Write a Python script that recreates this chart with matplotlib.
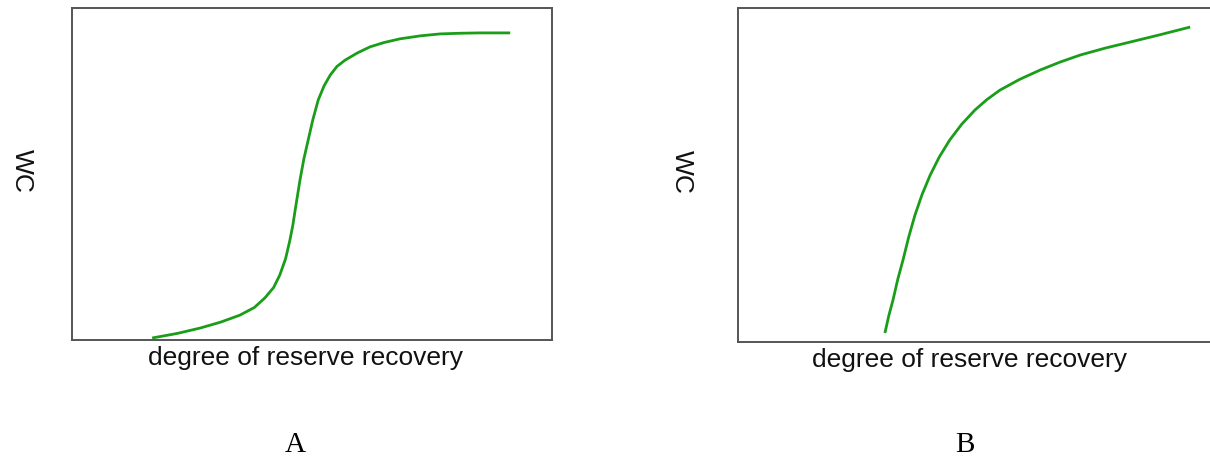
import matplotlib
matplotlib.use("Agg")
import matplotlib.pyplot as plt

# Water cut (%) versus degree of reserve recovery (%) for two displacement types
recovery_a = [16.7, 22.0, 26.7, 31.0, 35.0, 38.0, 40.2, 42.0, 43.3, 44.5, 45.4, 46.0,
              46.5, 47.0, 47.5, 48.3, 49.2, 50.2, 51.3, 52.5, 53.8, 55.2, 56.9, 59.5,
              62.1, 65.0, 68.3, 72.5, 76.7, 81.0, 85.0, 88.0, 91.3]
wc_a = [0.6, 2.0, 3.6, 5.4, 7.5, 9.8, 12.7, 15.8, 19.6, 24.5, 30.1, 34.5,
        39.2, 43.7, 48.2, 54.5, 60.2, 66.5, 72.3, 76.5, 79.8, 82.4, 84.3, 86.5,
        88.3, 89.6, 90.7, 91.6, 92.2, 92.4, 92.5, 92.5, 92.5]

recovery_b = [30.8, 31.6, 32.5, 33.5, 34.6, 35.8, 37.1, 38.6, 40.3, 42.2, 44.4, 46.9,
              49.7, 52.2, 54.9, 59.0, 63.3, 67.5, 71.7, 77.0, 82.2, 88.5, 94.8]
wc_b = [2.7, 7.8, 12.6, 18.8, 24.6, 31.5, 38.0, 44.2, 50.0, 55.4, 60.5, 65.2,
        69.5, 72.6, 75.4, 78.6, 81.4, 83.8, 85.9, 88.0, 89.8, 92.0, 94.3]

panel_titles = ["A", "B"]
x_label = "degree of reserve recovery"
y_label = "WC"

W, H = 1210, 462
fig = plt.figure(figsize=(W / 100, H / 100), dpi=100)

green = "#1a9e1a"
spine_color = "#555555"
sans = ["Liberation Sans", "DejaVu Sans"]
serif = ["Liberation Serif", "DejaVu Serif"]


def px_rect(x0, y0, x1, y1):
    return [x0 / W, 1 - y1 / H, (x1 - x0) / W, (y1 - y0) / H]


panels = [
    dict(rect=px_rect(72, 8, 552, 340), x=recovery_a, y=wc_a,
         ylab=(22, 171), xlab=(305, 358), title=(295, 445), right=True),
    dict(rect=px_rect(738, 8, 1215, 342), x=recovery_b, y=wc_b,
         ylab=(682, 172), xlab=(970, 360), title=(965, 445), right=False),
]

for p, title in zip(panels, panel_titles):
    ax = fig.add_axes(p["rect"])
    ax.plot(p["x"], p["y"], color=green, lw=2.0, solid_capstyle="butt",
            solid_joinstyle="round")
    ax.set_xlim(0, 100)
    ax.set_ylim(0, 100)
    ax.set_xticks([])
    ax.set_yticks([])
    for name, sp in ax.spines.items():
        sp.set_color(spine_color)
        sp.set_linewidth(1.4)
    if not p["right"]:
        ax.spines["right"].set_visible(False)
    fig.text(p["ylab"][0] / W, 1 - p["ylab"][1] / H, y_label, rotation=270,
             ha="center", va="center", fontsize=19, family=sans, color="#111111")
    fig.text(p["xlab"][0] / W, 1 - p["xlab"][1] / H, x_label,
             ha="center", va="center", fontsize=19, family=sans, color="#111111")
    fig.text(p["title"][0] / W, 1 - p["title"][1] / H, title,
             ha="center", va="center", fontsize=21, family=serif, color="#000000")

fig.savefig("out.png", dpi=100)
